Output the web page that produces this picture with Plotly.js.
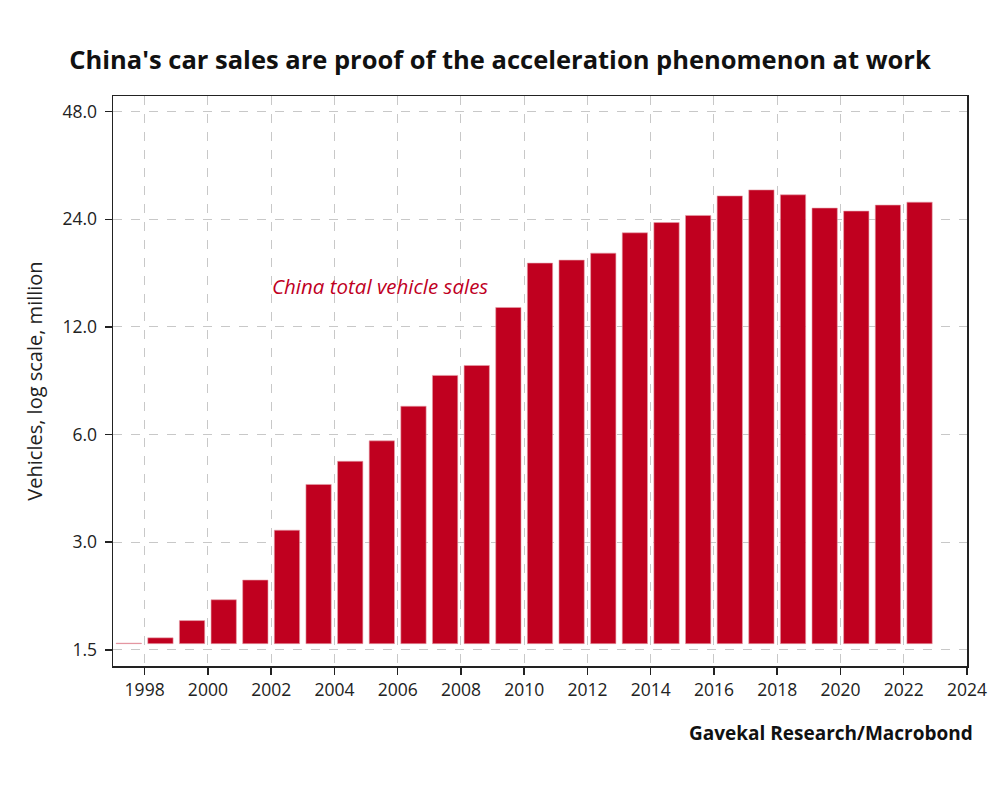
<!DOCTYPE html>
<html>
<head>
<meta charset="utf-8">
<script src="https://cdn.plot.ly/plotly-3.0.1.min.js"></script>
<style>
  html, body { margin: 0; padding: 0; background: #fff; }
  #chart { width: 1000px; height: 791px; }
</style>
</head>
<body>
<div id="chart"></div>
<script>
// -----------------------
// Datos
// -----------------------
const years = [1997, 1998, 1999, 2000, 2001, 2002, 2003, 2004, 2005, 2006, 2007, 2008, 2009,
               2010, 2011, 2012, 2013, 2014, 2015, 2016, 2017, 2018, 2019, 2020, 2021, 2022];
const sales = [1.565, 1.62, 1.81, 2.07, 2.35, 3.24, 4.35, 5.05, 5.76, 7.2, 8.78, 9.36, 13.6,
               18.1, 18.45, 19.3, 22.0, 23.5, 24.6, 27.9, 29.0, 28.1, 25.8, 25.3, 26.3, 26.8];
const yTicks = [1.5, 3, 6, 12, 24, 48];
const yTickText = ["1.5", "3.0", "6.0", "12.0", "24.0", "48.0"];
const xTicks = [1998, 2000, 2002, 2004, 2006, 2008, 2010, 2012, 2014, 2016, 2018, 2020, 2022, 2024];

const RED = "#c0001f";
const FONT = "Open Sans, Noto Sans, sans-serif";
const BASE = 1.56;   // arranque de las barras en el eje log

// barras dibujadas en el periodo que termina al cierre del año;
// en plotly la barra va de base a base + y, por eso se resta la base
const trace = {
  type: "bar",
  x: years.map(y => y + 0.5),
  y: sales.map(v => v - BASE),
  base: BASE,
  width: 0.8,
  marker: { color: RED, line: { color: "#e6a0aa", width: 0.6 } },
  hoverinfo: "skip",
  showlegend: false
};

const W = 1000, H = 791;
const M = { l: 113, r: 33, t: 96, b: 125 };

const layout = {
  width: W,
  height: H,
  paper_bgcolor: "#fff",
  plot_bgcolor: "#fff",
  margin: M,
  font: { family: FONT, color: "#222", size: 18 },
  title: {
    text: "<b>China's car sales are proof of the acceleration phenomenon at work</b>",
    font: { family: FONT, size: 25.5, color: "#111" },
    x: 0.5, xanchor: "center", y: 1 - 60 / H, yanchor: "middle"
  },
  xaxis: {
    type: "linear",
    range: [1997, 2024],
    tickmode: "array",
    tickvals: xTicks,
    ticktext: xTicks.map(String),
    ticks: "outside", ticklen: 7, tickwidth: 1.5, tickcolor: "#222",
    showline: true, linecolor: "#222", linewidth: 1.5, mirror: true,
    showgrid: true, gridcolor: "#c8c8c8", griddash: "dash", gridwidth: 1,
    zeroline: false,
    tickfont: { family: FONT, size: 17.5, color: "#222" }
  },
  yaxis: {
    type: "log",
    range: [Math.log10(1.351), Math.log10(53.1)],
    tickmode: "array",
    tickvals: yTicks,
    ticktext: yTickText,
    ticks: "outside", ticklen: 7, tickwidth: 1.5, tickcolor: "#222",
    ticklabelstandoff: 4,
    showline: true, linecolor: "#222", linewidth: 1.5, mirror: true,
    showgrid: true, gridcolor: "#c8c8c8", griddash: "dash", gridwidth: 1,
    zeroline: false,
    tickfont: { family: FONT, size: 17.5, color: "#222" },
    title: { text: "Vehicles, log scale, million", font: { family: FONT, size: 20, color: "#222" }, standoff: 14 }
  },
  annotations: [
    {
      text: "<i>China total vehicle sales</i>",
      x: 2005.44, y: Math.log10(15.6), xref: "x", yref: "y",
      showarrow: false, xanchor: "center", yanchor: "middle",
      font: { family: FONT, size: 20.5, color: RED }
    },
    {
      text: "<b>Gavekal Research/Macrobond</b>",
      xref: "paper", yref: "paper",
      x: (975 - M.l) / (W - M.l - M.r),
      y: ((H - M.b) - 733) / (H - M.t - M.b),
      xanchor: "right", yanchor: "middle",
      showarrow: false,
      font: { family: FONT, size: 19, color: "#111" }
    }
  ]
};

Plotly.newPlot("chart", [trace], layout, { staticPlot: true, displayModeBar: false });
</script>
</body>
</html>
